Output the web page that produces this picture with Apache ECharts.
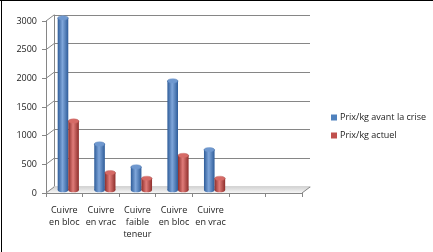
<!DOCTYPE html>
<html><head><meta charset="utf-8">
<script src="https://cdn.jsdelivr.net/npm/echarts@6/dist/echarts.min.js"></script>
<style>html,body{margin:0;padding:0;background:#fff}#c{width:433px;height:252px}</style>
</head><body><div id="c"></div>
<script>
const categories = ['Cuivre\nen bloc', 'Cuivre\nen vrac', 'Cuivre\nfaible\nteneur', 'Cuivre\nen bloc', 'Cuivre\nen vrac', '', ''];
const seriesNames = ['Prix/kg avant la crise', 'Prix/kg actuel'];
const avantCrise = [3000, 800, 400, 1900, 700, null, null];
const actuel = [1200, 300, 200, 600, 200, null, null];
const yTicks = [0, 500, 1000, 1500, 2000, 2500, 3000];

const DX = 8, DY = -6; // depth offset of back wall
const FONT = 'Open Sans';
const axisGrey = '#868686';

function grad(light, dark) {
  return new echarts.graphic.LinearGradient(0, 0, 1, 0, [
    {offset: 0, color: dark}, {offset: 0.45, color: light}, {offset: 1, color: dark}
  ]);
}
const palettes = [
  {body: grad('#7FA6DA', '#2E5C99'), top: '#6F98CF', name: '#4F81BD'},
  {body: grad('#E07C79', '#8E2E2B'), top: '#D66A66', name: '#C0504D'}
];

function cylinder(idx) {
  return function (params, api) {
    const cat = api.value(0), v = api.value(1);
    if (v == null || isNaN(v)) return null;
    const top = api.coord([cat, v]);
    const base = api.coord([cat, 0]);
    const bw = api.size([1, 0])[0] * 0.29;
    const cx = top[0] + (idx === 0 ? -bw / 2 : bw / 2);
    const ry = bw * 0.22;
    const p = palettes[idx];
    return {type: 'group', children: [
      {type: 'ellipse', shape: {cx: cx, cy: base[1], rx: bw / 2, ry: ry}, style: {fill: p.body}},
      {type: 'rect', shape: {x: cx - bw / 2, y: top[1], width: bw, height: base[1] - top[1]}, style: {fill: p.body}},
      {type: 'ellipse', shape: {cx: cx, cy: top[1], rx: bw / 2, ry: ry}, style: {fill: p.top, stroke: p.body, lineWidth: 0.5}}
    ]};
  };
}

function diagonals(params, api) {
  const v = api.value(1);
  const cs = params.coordSys;
  const y = api.coord([0, v])[1];
  const children = [{type: 'line', shape: {x1: cs.x, y1: y, x2: cs.x + DX, y2: y + DY}, style: {stroke: axisGrey, lineWidth: 1}}];
  if (v === 0) {
    children.push({type: 'line', shape: {x1: cs.x + cs.width, y1: y, x2: cs.x + cs.width + DX, y2: y + DY}, style: {stroke: axisGrey, lineWidth: 1}});
    children.push({type: 'polygon', shape: {points: [[cs.x, y], [cs.x + DX, y + DY], [cs.x + cs.width + DX, y + DY], [cs.x + cs.width, y]]},
      style: {fill: new echarts.graphic.LinearGradient(0, 0, 0, 1, [{offset: 0, color: '#D4D4D4'}, {offset: 1, color: '#F6F6F6'}])}, z2: -1});
  }
  return {type: 'group', children: children};
}

const chart = echarts.init(document.getElementById('c'), null, {renderer: 'canvas'});
const front = {left: 46, top: 21, width: 256, height: 172};
chart.setOption({
  animation: false,
  textStyle: {fontFamily: FONT},
  graphic: [
    {type: 'line', shape: {x1: 0, y1: 0.5, x2: 433, y2: 0.5}, style: {stroke: '#000', lineWidth: 1}},
    {type: 'line', shape: {x1: 1.5, y1: 0, x2: 1.5, y2: 252}, style: {stroke: '#000', lineWidth: 1}}
  ],
  legend: {
    orient: 'vertical', left: 326, top: 108, itemWidth: 6, itemHeight: 6, itemGap: 9,
    textStyle: {fontFamily: FONT, fontSize: 9, color: '#222', padding: [0, 0, 0, -2]},
    data: seriesNames.map((n, i) => ({name: n, icon: 'rect', itemStyle: {color: palettes[i].name}}))
  },
  grid: [
    front,
    {left: front.left + DX, top: front.top + DY, width: front.width, height: front.height},
    {left: front.left + DX / 2, top: front.top + DY / 2, width: front.width, height: front.height}
  ],
  xAxis: [
    {type: 'category', gridIndex: 0, data: categories,
      axisLine: {show: true, lineStyle: {color: axisGrey}},
      axisTick: {show: true, length: 4, alignWithLabel: false, lineStyle: {color: axisGrey}},
      axisLabel: {fontFamily: FONT, fontSize: 9, color: '#222', lineHeight: 12, margin: 11, interval: 0}},
    {type: 'category', gridIndex: 1, data: categories, axisLine: {show: true, lineStyle: {color: '#C8C8C8', width: 1.5}},
      axisTick: {show: false}, axisLabel: {show: false}},
    {type: 'category', gridIndex: 2, data: categories, show: false}
  ],
  yAxis: [
    {type: 'value', gridIndex: 0, min: 0, max: 3000, interval: 500,
      axisLine: {show: true, lineStyle: {color: axisGrey}},
      axisTick: {show: true, length: 4, lineStyle: {color: axisGrey}},
      splitLine: {show: false},
      axisLabel: {fontFamily: FONT, fontSize: 9, color: '#222', margin: 9, formatter: v => String(v)}},
    {type: 'value', gridIndex: 1, min: 0, max: 3000, interval: 500,
      axisLine: {show: true, lineStyle: {color: axisGrey}}, axisTick: {show: false}, axisLabel: {show: false},
      splitLine: {show: true, lineStyle: {color: axisGrey, width: 1}}},
    {type: 'value', gridIndex: 2, min: 0, max: 3000, interval: 500, show: false, splitLine: {show: false}}
  ],
  series: [
    {type: 'custom', name: 'diag', xAxisIndex: 0, yAxisIndex: 0, renderItem: diagonals, clip: false,
      data: yTicks.map(v => [0, v]), encode: {x: 0, y: 1}, silent: true, z: 1},
    {type: 'custom', name: seriesNames[0], xAxisIndex: 2, yAxisIndex: 2, renderItem: cylinder(0),
      data: avantCrise.map((v, i) => [i, v]), encode: {x: 0, y: 1}, itemStyle: {color: palettes[0].name}, z: 5},
    {type: 'custom', name: seriesNames[1], xAxisIndex: 2, yAxisIndex: 2, renderItem: cylinder(1),
      data: actuel.map((v, i) => [i, v]), encode: {x: 0, y: 1}, itemStyle: {color: palettes[1].name}, z: 5}
  ]
});
</script></body></html>
